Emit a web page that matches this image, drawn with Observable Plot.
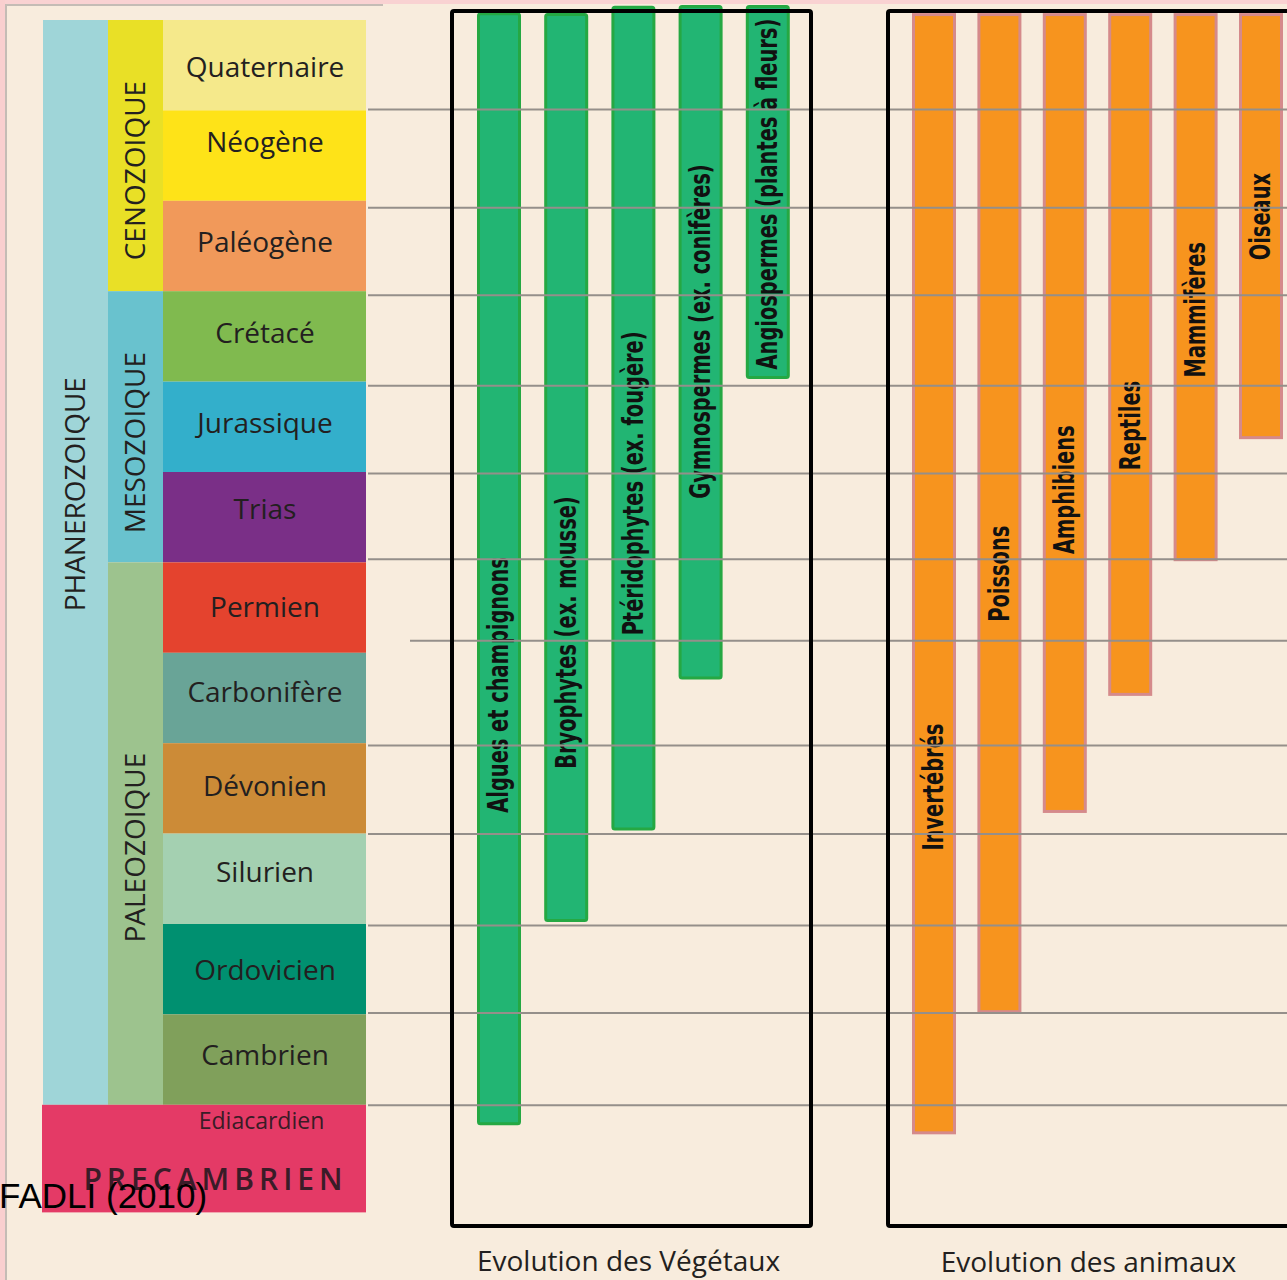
<!DOCTYPE html>
<html>
<head>
<meta charset="utf-8">
<script src="https://cdn.jsdelivr.net/npm/d3@7"></script>
<script src="https://cdn.jsdelivr.net/npm/@observablehq/plot@0.6"></script>
<style>
  html, body { margin: 0; padding: 0; overflow: hidden; background: #f8ecdd; }
  #wrap { position: relative; width: 1287px; height: 1280px; overflow: hidden; }
  #wrap svg { display: block; }
  .frame { position: absolute; pointer-events: none; }
  #caption { position: absolute; left: -1px; top: 1178px; font-family: "Liberation Sans", Arial, sans-serif; font-size: 35px; line-height: 35px; color: #000; white-space: nowrap; }
</style>
</head>
<body>
<div id="wrap"></div>
<script>
// ---------------- DATA ----------------
// Periods of the Phanerozoic (top = most recent), one equal band each
const periods = ["Quaternaire", "Néogène", "Paléogène", "Crétacé", "Jurassique", "Trias",
  "Permien", "Carbonifère", "Dévonien", "Silurien", "Ordovicien", "Cambrien"];
const periodColors = ["#f5e98b", "#fee318", "#f1995a", "#80ba4f", "#33afcb", "#7a2f87",
  "#e4432e", "#69a497", "#cc8b37", "#a4d0b1", "#009070", "#80a05b"];
const periodLabelAt = [0.53, 1.36, 2.46, 3.47, 4.46, 5.41, 6.5, 7.44, 8.48, 9.43, 10.52, 11.46];

// Eras (in period units)
const eras = ["CENOZOIQUE", "MESOZOIQUE", "PALEOZOIQUE"];
const eraStart = [0, 3, 6];
const eraEnd = [3, 6, 12];
const eraLabelAt = [1.66, 4.67, 9.15];
const eraColors = ["#e9e026", "#69c2ce", "#9dc38e"];

// Eon
const eonName = "PHANEROZOIQUE";
const eonStart = 0, eonEnd = 12, eonLabelAt = 5.24;
const eonColor = "#9fd5d8";

// Precambrian
const precambrianName = "PRECAMBRIEN";
const precambrianStage = "Ediacardien";
const precambrianStart = 12, precambrianEnd = 13.19;
const precambrianColor = "#e43a66";

// Plants: bar extent (period units from the top)
const plants = ["Algues et champignons", "Bryophytes (ex. mousse)", "Ptéridophytes (ex. fougère)",
  "Gymnospermes (ex. conifères)", "Angiospermes (plantes à fleurs)"];
const plantTop = [-0.07, -0.06, -0.14, -0.15, -0.15];
const plantEnd = [12.21, 9.96, 8.95, 7.28, 3.955];
const plantLabelAt = [7.35, 6.77, 5.12, 3.44, 1.92];

// Animals
const animals = ["Invertébrés", "Poissons", "Amphibiens", "Reptiles", "Mammifères", "Oiseaux"];
const animalTop = [-0.06, -0.06, -0.06, -0.06, -0.06, -0.06];
const animalEnd = [12.31, 10.97, 8.755, 7.46, 5.97, 4.62];
const animalLabelAt = [8.48, 6.12, 5.19, 4.48, 3.20, 2.17];

// Horizontal guide lines (period units)
const guideLines = [0.985, 2.07, 3.04, 4.04, 5.01, 5.96, 6.86, 8.02, 9.0, 10.01, 10.98, 12.0];

const groupTitles = ["Evolution des Végétaux", "Evolution des animaux"];
const caption = "FADLI (2010)";

// ---------------- LAYOUT ----------------
const W = 1287, H = 1280;
const topPx = 20, unitPx = 90.4;
const eonCol = [43, 108], eraCol = [108, 163], periodCol = [163, 366];
const barHalf = 20.5;
const plantX0 = 499, plantStep = 67.2;
const animalX0 = 934, animalStep = 65.4;
const plantBox = {x1: 452, x2: 811, y1: -0.1, y2: 13.34};
const animalBox = {x1: 888, x2: W + 20, y1: -0.1, y2: 13.34};
const sans = "'Open Sans', 'DejaVu Sans', sans-serif";
const condensed = "'Liberation Sans Narrow', 'DejaVu Sans Condensed', 'Roboto Condensed', sans-serif";
const condenseRatio = 0.77;
const ink = "#231f20";

const periodData = periods.map((name, i) => ({name, color: periodColors[i], start: i, end: i + 1, label: periodLabelAt[i]}));
const eraData = eras.map((name, i) => ({name, color: eraColors[i], start: eraStart[i], end: eraEnd[i], label: eraLabelAt[i]}));
const plantData = plants.map((name, i) => ({name, x: plantX0 + i * plantStep, top: plantTop[i], end: plantEnd[i], label: plantLabelAt[i]}));
const animalData = animals.map((name, i) => ({name, x: animalX0 + i * animalStep, top: animalTop[i], end: animalEnd[i], label: animalLabelAt[i]}));

const chart = Plot.plot({
  width: W,
  height: H,
  margin: 0,
  style: {background: "#f8ecdd", overflow: "hidden"},
  x: {domain: [0, W], range: [0, W], axis: null},
  y: {domain: [-topPx / unitPx, (H - topPx) / unitPx], range: [0, H], axis: null},
  color: {type: "identity"},
  marks: [
    // Eon column
    Plot.rect([eonName], {x1: eonCol[0], x2: eonCol[1], y1: eonStart, y2: eonEnd, fill: eonColor}),
    // Era column
    Plot.rect(eraData, {x1: eraCol[0], x2: eraCol[1], y1: "start", y2: "end", fill: "color"}),
    // Period column
    Plot.rect(periodData, {x1: periodCol[0], x2: periodCol[1], y1: "start", y2: "end", fill: "color"}),
    // Precambrian
    Plot.rect([precambrianName], {x1: eonCol[0] - 1, x2: periodCol[1], y1: precambrianStart, y2: precambrianEnd, fill: precambrianColor}),

    // Labels of the time scale
    Plot.text([eonName], {x: (eonCol[0] + eonCol[1]) / 2, y: eonLabelAt, text: d => d, rotate: -90,
      fontFamily: sans, fontSize: 28, fill: ink}),
    Plot.text(eraData, {x: (eraCol[0] + eraCol[1]) / 2, y: "label", text: "name", rotate: -90,
      fontFamily: sans, fontSize: 28, fill: ink}),
    Plot.text(periodData, {x: (periodCol[0] + periodCol[1]) / 2, y: "label", text: "name",
      fontFamily: sans, fontSize: 28, fill: ink}),
    Plot.text([precambrianStage], {x: 261, y: precambrianStart + 0.18, text: d => d,
      fontFamily: sans, fontSize: 23, fill: "#3a1c26"}),
    Plot.text([precambrianName], {x: 215, y: precambrianStart + 0.83, text: d => d,
      fontFamily: sans, fontSize: 30, fontWeight: 600, fill: "#3a1c28"}),

    // Plant bars
    Plot.rect(plantData, {x1: d => d.x - barHalf, x2: d => d.x + barHalf, y1: "top", y2: "end",
      fill: "#22b573", stroke: "#25a843", strokeWidth: 3, rx: 2}),
    Plot.text(plantData, {x: "x", y: "label", text: "name", rotate: -90,
      fontFamily: condensed, fontWeight: "bold", fontSize: 28, fill: "#111"}),

    // Animal bars
    Plot.rect(animalData, {x1: d => d.x - barHalf, x2: d => d.x + barHalf, y1: "top", y2: "end",
      fill: "#f7941e", stroke: "#d58a8b", strokeWidth: 3}),
    Plot.text(animalData, {x: "x", y: "label", text: "name", rotate: -90,
      fontFamily: condensed, fontWeight: "bold", fontSize: 28, fill: "#111"}),

    // Guide lines
    Plot.ruleY(guideLines, {x1: (d, i) => (i === 6 ? 410 : 368), x2: W, stroke: "#958f8a", strokeWidth: 2}),

    // Group boxes
    Plot.rect([plantBox], {x1: "x1", x2: "x2", y1: "y1", y2: "y2", fill: "none", stroke: "#000", strokeWidth: 4, rx: 2}),
    Plot.rect([animalBox], {x1: "x1", x2: "x2", y1: "y1", y2: "y2", fill: "none", stroke: "#000", strokeWidth: 4, rx: 2}),

    // Group titles
    Plot.text(groupTitles, {x: (d, i) => (i === 0 ? 628 : 1088), y: (d, i) => (i === 0 ? 13.73 : 13.75), text: d => d,
      fontFamily: sans, fontSize: 28, fill: ink})
  ]
});

d3.select(chart).selectAll("text")
  .filter(function () { return this.textContent === precambrianName; })
  .style("letter-spacing", "5px");

const wrap = document.getElementById("wrap");
wrap.appendChild(chart);

// Condense the bold bar labels horizontally (the original uses a condensed face)
const barNames = new Set([...plants, ...animals]);
d3.select(chart).selectAll("text")
  .filter(function () { return barNames.has(this.textContent); })
  .each(function () {
    const len = this.getComputedTextLength();
    this.setAttribute("textLength", (len * condenseRatio).toFixed(1));
    this.setAttribute("lengthAdjust", "spacingAndGlyphs");
  });

// Page frame (pink margin + thin grey rule)
const frames = [
  {left: 0, top: 0, width: W, height: 4, bg: "#f9d2d2"},
  {left: 0, top: 0, width: 5, height: H, bg: "#f9cfcf"},
  {left: 5, top: 4, width: 2, height: H, bg: "#c4bcb5"},
  {left: 5, top: 4, width: 378, height: 2, bg: "#c4bcb5"}
];
for (const f of frames) {
  const d = document.createElement("div");
  d.className = "frame";
  Object.assign(d.style, {left: f.left + "px", top: f.top + "px", width: f.width + "px", height: f.height + "px", background: f.bg});
  wrap.appendChild(d);
}
const cap = document.createElement("div");
cap.id = "caption";
cap.textContent = caption;
wrap.appendChild(cap);
</script>
</body>
</html>
